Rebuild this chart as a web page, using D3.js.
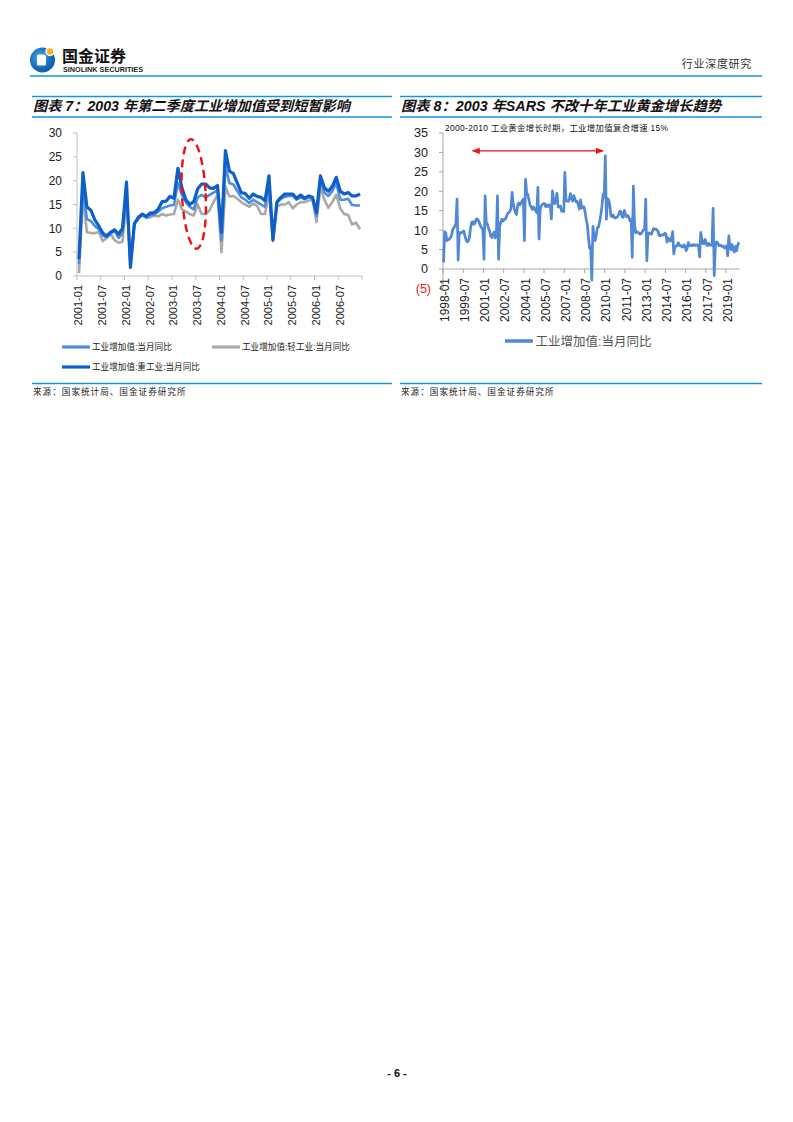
<!DOCTYPE html>
<html><head><meta charset="utf-8">
<script src="https://cdn.jsdelivr.net/npm/d3@7/dist/d3.min.js"></script>
<style>body{margin:0;background:#fff}svg{display:block}</style>
</head><body><svg id="c" width="793" height="1122"></svg>
<script>
// ---------- DATA ----------
const leftStartYear = 2001, leftMonthCount = 72;
const leftTickLabels = ['2001-01','2001-07','2002-01','2002-07','2003-01','2003-07','2004-01','2004-07','2005-01','2005-07','2006-01','2006-07'];
const leftYTicks = [0,5,10,15,20,25,30];
const leftSeriesNames = ['工业增加值:当月同比','工业增加值:轻工业:当月同比','工业增加值:重工业:当月同比'];
const leftTotal = [2.5,18.5,12.0,11.5,10.5,9.8,8.5,8.1,8.9,9.5,8.0,9.0,
  18.0,2.5,11.0,12.0,12.8,12.3,12.8,12.8,13.5,14.2,14.5,14.8,
  14.9,19.5,17.0,15.5,14.5,14.0,16.5,17.0,16.5,17.0,17.5,18.0,
  7.5,23.0,19.5,19.2,17.8,16.5,16.0,15.3,16.0,15.5,15.0,14.5,
  20.0,7.5,15.3,16.2,16.6,16.8,16.8,16.0,16.5,16.1,16.5,16.4,
  12.6,20.0,17.5,16.8,17.8,19.5,16.0,16.0,16.2,14.9,14.8,14.8];
const leftLight = [0.6,16.8,9.2,9.0,9.0,9.2,7.3,8.0,8.8,7.5,7.0,7.2,
  16.0,2.5,11.0,12.5,12.8,12.2,12.3,12.7,12.5,13.0,12.7,12.9,
  13.0,16.0,14.0,13.5,13.0,12.7,15.0,13.0,13.0,13.8,15.5,17.0,
  5.0,18.7,16.7,16.8,16.2,15.5,15.0,14.5,15.2,14.7,13.0,13.0,
  17.5,7.3,14.5,15.0,15.0,15.5,14.2,15.0,15.5,15.5,15.8,16.0,
  11.3,18.5,16.0,14.3,15.5,17.0,14.2,13.0,12.8,10.8,11.2,9.8];
const leftHeavy = [3.6,21.7,14.5,13.8,11.8,10.5,9.0,8.4,9.2,9.7,8.8,10.0,
  19.7,1.8,11.0,12.3,13.0,12.5,13.2,13.3,14.0,15.6,15.7,16.7,
  16.3,22.6,18.5,16.0,15.0,15.6,18.3,19.3,19.3,18.5,18.4,19.0,
  9.2,26.3,22.0,21.5,19.5,17.5,17.3,16.3,17.2,16.7,16.5,15.8,
  21.0,7.6,15.5,16.5,17.2,17.2,17.2,16.3,17.0,16.3,16.8,16.5,
  13.3,21.0,18.5,17.8,18.8,20.7,17.8,17.2,17.5,16.8,16.8,17.2];

const rightStartYear = 1998, rightMonthCount = 264;
const rightTickLabels = ['1998-01','1999-07','2001-01','2002-07','2004-01','2005-07','2007-01','2008-07','2010-01','2011-07','2013-01','2014-07','2016-01','2017-07','2019-01'];
const rightYTicks = [-5,0,5,10,15,20,25,30,35];
const rightSeriesName = '工业增加值:当月同比';
const rightTotal = [
  1.7,9.6,9.3,7.3,7.6,7.6,8.0,8.5,10.0,10.5,11.0,11.7,
  18.0,2.3,9.4,9.2,9.3,9.6,9.8,8.5,7.5,7.0,7.2,8.0,
  10.5,12.0,12.2,11.5,11.8,12.8,12.9,12.5,11.8,11.0,10.5,10.2,
  2.5,18.8,12.0,11.5,10.5,9.8,8.5,8.1,8.9,9.5,8.0,9.0,
  18.8,2.5,11.0,12.0,12.8,12.3,12.8,12.8,13.5,14.2,14.5,14.8,
  15.5,19.7,17.0,15.5,14.5,14.0,16.5,17.0,16.5,17.0,17.5,18.0,
  7.3,23.1,19.5,19.2,17.8,16.5,16.0,15.3,16.0,15.5,15.0,14.5,
  21.0,7.7,15.3,16.2,16.6,16.8,16.8,16.0,16.5,16.1,16.5,16.4,
  12.9,20.1,17.5,16.8,17.8,19.5,16.0,16.0,16.2,14.9,14.8,14.8,
  24.9,17.5,17.6,17.4,18.1,19.4,18.0,17.5,18.9,17.9,17.3,17.4,
  16.5,15.4,17.8,15.7,16.0,16.0,14.7,12.8,11.4,8.2,5.4,5.7,
  -2.9,11.0,8.3,7.3,8.9,10.7,10.8,12.3,13.9,16.1,19.2,18.5,
  29.1,12.8,18.1,17.8,16.5,13.7,13.4,13.9,13.3,13.1,13.3,13.5,
  14.1,14.9,14.8,13.4,13.3,15.1,14.0,13.5,13.8,13.2,12.4,12.8,
  3.0,21.3,11.9,9.3,9.6,9.5,9.2,8.9,9.2,9.6,10.1,10.3,
  18.0,2.1,8.9,9.3,9.2,8.9,9.7,10.4,10.2,10.3,10.0,9.7,
  8.6,8.6,8.8,8.7,8.8,9.2,9.0,6.9,8.0,7.7,7.2,7.9,
  9.6,3.9,5.6,5.9,6.1,6.8,6.0,6.1,5.7,5.6,6.2,5.9,
  4.7,5.4,6.8,6.0,6.0,6.2,6.0,6.3,6.1,6.1,6.2,6.0,
  3.1,9.4,7.6,6.5,6.5,7.6,6.4,6.0,6.6,6.2,6.1,6.2,
  15.6,-1.7,6.0,7.0,6.8,6.0,6.0,6.1,5.8,5.9,5.4,5.7,
  6.0,3.4,8.5,5.4,5.0,6.3,4.8,4.4,5.8,4.7,6.2,6.9];

const texts = {
  brandCn: '国金证券', brandEn: 'SINOLINK SECURITIES', section: '行业深度研究',
  titleL: '图表 7：2003 年第二季度工业增加值受到短暂影响',
  titleR: '图表 8：2003 年SARS 不改十年工业黄金增长趋势',
  source: '来源：国家统计局、国金证券研究所',
  note: '2000-2010 工业黄金增长时期，工业增加值复合增速 15%',
  page: '- 6 -'
};
// ---------- HELPERS ----------
const monthsFrom = (y0, n) => d3.range(n).map(i => `${y0 + Math.floor(i/12)}-${String(i%12+1).padStart(2,'0')}`);
const RULE = '#1296DB';
const CJK = '"Liberation Sans","Noto Sans CJK SC",sans-serif';
const svg = d3.select('#c');
const rule = (x1,x2,y,w=1.3) => svg.append('line').attr('x1',x1).attr('x2',x2).attr('y1',y).attr('y2',y).attr('stroke',RULE).attr('stroke-width',w);

// ---------- HEADER ----------
const logo = svg.append('g');
const grad = svg.append('defs').append('radialGradient').attr('id','lg').attr('cx','40%').attr('cy','40%');
grad.append('stop').attr('offset','0%').attr('stop-color','#4aa8ea');
grad.append('stop').attr('offset','100%').attr('stop-color','#0f64b4');
logo.append('circle').attr('cx',42.5).attr('cy',60).attr('r',12.5).attr('fill','url(#lg)');
logo.append('rect').attr('x',37).attr('y',54.5).attr('width',9).attr('height',11).attr('rx',1.5).attr('fill','#fff');
logo.append('circle').attr('cx',50).attr('cy',51.5).attr('r',4).attr('fill','#F6B21A').attr('stroke','#fff').attr('stroke-width',1.5);
svg.append('text').attr('x',62).attr('y',62).text(texts.brandCn).attr('font-family',CJK).attr('font-weight','bold').attr('font-size',16).attr('fill','#111');
svg.append('text').attr('x',63).attr('y',71.5).text(texts.brandEn).attr('font-family','"Liberation Sans",Arial,sans-serif').attr('font-weight','bold').attr('font-size',6.8).attr('textLength',80).attr('lengthAdjust','spacingAndGlyphs').attr('fill','#222');
svg.append('text').attr('x',752).attr('y',67.5).attr('text-anchor','end').text(texts.section).attr('font-family',CJK).attr('font-size',11).attr('letter-spacing',0.7).attr('fill','#333');
rule(30,762,76,1.6);

// ---------- TITLE ROWS ----------
rule(32,392,96.5); rule(32,392,117);
rule(400,762,96.5); rule(400,762,117);
svg.append('text').attr('x',33).attr('y',111).text(texts.titleL).attr('font-family',CJK).attr('font-weight','bold').attr('font-style','italic').attr('font-size',14).attr('textLength',317).attr('lengthAdjust','spacingAndGlyphs').attr('fill','#111');
svg.append('text').attr('x',401).attr('y',111).text(texts.titleR).attr('font-family',CJK).attr('font-weight','bold').attr('font-style','italic').attr('font-size',14).attr('textLength',320).attr('lengthAdjust','spacingAndGlyphs').attr('fill','#111');

// ---------- SOURCE ROWS ----------
rule(32,392,383.5); rule(400,762,383.5);
svg.append('text').attr('x',33).attr('y',394.5).text(texts.source).attr('font-family',CJK).attr('font-size',8.6).attr('letter-spacing',1).attr('fill','#222');
svg.append('text').attr('x',401).attr('y',394.5).text(texts.source).attr('font-family',CJK).attr('font-size',8.6).attr('letter-spacing',1).attr('fill','#222');
svg.append('text').attr('x',397).attr('y',1077).attr('text-anchor','middle').text(texts.page).attr('font-family','"Liberation Sans",Arial,sans-serif').attr('font-weight','bold').attr('font-size',11).attr('fill','#111');

// ---------- LEFT CHART ----------
const lm = monthsFrom(leftStartYear, leftMonthCount);
const xL = d3.scaleBand().domain(lm).range([77,362]);
const cxL = m => xL(m) + xL.bandwidth()/2;
const yL = d3.scaleLinear().domain([0,30]).range([276,133]);
const gL = svg.append('g');
const axisGray = '#BFBFBF';
gL.append('line').attr('x1',77).attr('x2',77).attr('y1',yL(30)).attr('y2',yL(0)).attr('stroke',axisGray);
gL.append('line').attr('x1',77).attr('x2',362).attr('y1',yL(0)).attr('y2',yL(0)).attr('stroke',axisGray);
gL.selectAll('.yt').data(leftYTicks).join('line').attr('x1',73).attr('x2',77).attr('y1',d=>yL(d)).attr('y2',d=>yL(d)).attr('stroke',axisGray);
gL.selectAll('.yl').data(leftYTicks).join('text').attr('x',62).attr('y',d=>yL(d)).attr('dy','0.35em').attr('text-anchor','end').text(d=>d)
  .attr('font-family','"Liberation Sans",Arial,sans-serif').attr('font-size',12).attr('fill','#222');
const leftTickPos = leftTickLabels.map(l => xL(l)).concat([362]);
gL.selectAll('.xt').data(leftTickPos).join('line').attr('x1',d=>d).attr('x2',d=>d).attr('y1',yL(0)).attr('y2',yL(0)+4).attr('stroke',axisGray);
gL.selectAll('.xl').data(leftTickLabels).join('text')
  .attr('transform', d => `translate(${cxL(d)-0.5},${yL(0)+9}) rotate(-90)`)
  .attr('text-anchor','end').attr('dy','0.35em').text(d=>d)
  .attr('font-family','"Liberation Sans",Arial,sans-serif').attr('font-size',11).attr('fill','#222');
const lineL = d3.line().x((d,i)=>cxL(lm[i])).y(d=>yL(d)).curve(d3.curveLinear);
const leftColors = ['#4E8EDD','#A9A9A9','#0E5FC8'];
const leftWidths = [2.6,2.6,3.2];
[[leftLight,1],[leftTotal,0],[leftHeavy,2]].forEach(([arr,k]) => {
  gL.append('path').attr('d',lineL(arr)).attr('fill','none').attr('stroke',leftColors[k]).attr('stroke-width',leftWidths[k]).attr('stroke-linejoin','round');
});
// red dashed ellipse (annotation, positioned via scales)
const ell = {x0: 26.0, x1: 32.0, yTop: 28.7, yBot: 5.7};
const ex0 = cxL(lm[0]) + xL.step()*ell.x0, ex1 = cxL(lm[0]) + xL.step()*ell.x1;
gL.append('ellipse').attr('cx',(ex0+ex1)/2).attr('cy',(yL(ell.yTop)+yL(ell.yBot))/2).attr('rx',(ex1-ex0)/2).attr('ry',(yL(ell.yBot)-yL(ell.yTop))/2)
  .attr('transform',`rotate(-3,${(ex0+ex1)/2},${(yL(ell.yTop)+yL(ell.yBot))/2})`)
  .attr('fill','none').attr('stroke','#F01010').attr('stroke-width',2.4).attr('stroke-dasharray','8,5');
// legend
const legL = [{k:0,x:62,y:347},{k:1,x:212,y:347},{k:2,x:62,y:367}];
legL.forEach(o => {
  gL.append('line').attr('x1',o.x).attr('x2',o.x+28).attr('y1',o.y).attr('y2',o.y).attr('stroke',leftColors[o.k]).attr('stroke-width',3.2);
  gL.append('text').attr('x',o.x+30).attr('y',o.y+3.2).text(leftSeriesNames[o.k]).attr('font-family',CJK).attr('font-size',8.6).attr('fill','#222');
});

// ---------- RIGHT CHART ----------
const rm = monthsFrom(rightStartYear, rightMonthCount);
const xR = d3.scaleBand().domain(rm).range([443,739.5]);
const cxR = m => xR(m) + xR.bandwidth()/2;
const yR = d3.scaleLinear().domain([-5,35]).range([288.4,133]);
const gR = svg.append('g');
const axisGrayR = '#A6A6A6';
gR.append('line').attr('x1',443).attr('x2',443).attr('y1',yR(35)).attr('y2',yR(-5)).attr('stroke',axisGrayR);
gR.append('line').attr('x1',443).attr('x2',739.5).attr('y1',yR(0)).attr('y2',yR(0)).attr('stroke',axisGrayR);
gR.selectAll('.yt').data(rightYTicks).join('line').attr('x1',439).attr('x2',443).attr('y1',d=>yR(d)).attr('y2',d=>yR(d)).attr('stroke',axisGrayR);
gR.selectAll('.yl').data(rightYTicks).join('text').attr('x',d=>d<0?431:428).attr('y',d=>yR(d)).attr('dy','0.35em').attr('text-anchor','end')
  .text(d=>d<0?`(${-d})`:d).attr('font-family','"Liberation Sans",Arial,sans-serif').attr('font-size',12.5).attr('fill',d=>d<0?'#E8231E':'#222');
const rightTickPos = rightTickLabels.map(l => xR(l));
gR.selectAll('.xt').data(rightTickPos).join('line').attr('x1',d=>d).attr('x2',d=>d).attr('y1',yR(0)).attr('y2',yR(0)+4).attr('stroke',axisGrayR);
gR.selectAll('.xl').data(rightTickLabels).join('text')
  .attr('transform', d => `translate(${cxR(d)+1},${yR(0)+9}) rotate(-90)`)
  .attr('text-anchor','end').attr('dy','0.35em').text(d=>d)
  .attr('font-family','"Liberation Sans",Arial,sans-serif').attr('font-size',12).attr('fill','#222');
const rightColor = '#5088D6';
const lineR = d3.line().x((d,i)=>cxR(rm[i])).y(d=>yR(d));
gR.append('path').attr('d',lineR(rightTotal)).attr('fill','none').attr('stroke',rightColor).attr('stroke-width',2.7).attr('stroke-linejoin','round');
// annotation
gR.append('text').attr('x',445).attr('y',130.5).text(texts.note).attr('font-family',CJK).attr('font-size',8.4).attr('textLength',223).attr('lengthAdjust','spacing').attr('fill','#111');
const defs = svg.select('defs');
['s','e'].forEach(id => {
  defs.append('marker').attr('id','ar'+id).attr('viewBox','0 0 10 10').attr('refX',id==='e'?9:1).attr('refY',5).attr('markerWidth',6).attr('markerHeight',6).attr('orient','auto')
    .append('path').attr('d', id==='e' ? 'M0,1L10,5L0,9Z' : 'M10,1L0,5L10,9Z').attr('fill','#F01010');
});
const arrowFrom = '2000-03', arrowTo = '2009-11', arrowY = 30.4;
gR.append('line').attr('x1',cxR(arrowFrom)).attr('x2',cxR(arrowTo)).attr('y1',yR(arrowY)).attr('y2',yR(arrowY))
  .attr('stroke','#F01010').attr('stroke-width',1.3).attr('marker-start','url(#ars)').attr('marker-end','url(#are)');
// legend
gR.append('line').attr('x1',505).attr('x2',533).attr('y1',341).attr('y2',341).attr('stroke',rightColor).attr('stroke-width',3.5);
gR.append('text').attr('x',535.5).attr('y',345.5).text(rightSeriesName).attr('font-family',CJK).attr('font-size',12.5).attr('fill','#555');
</script></body></html>
